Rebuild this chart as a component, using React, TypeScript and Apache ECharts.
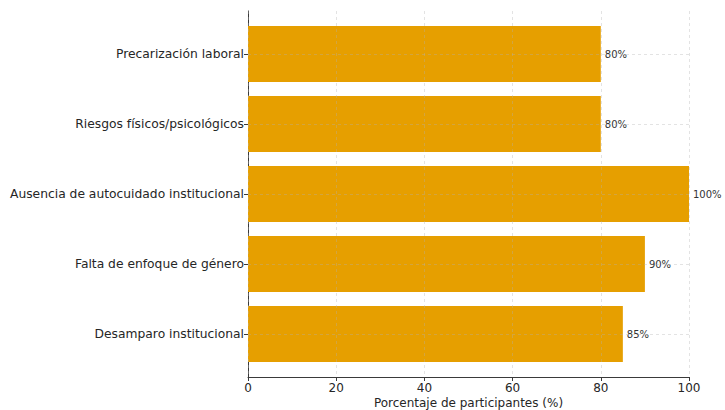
import React, { useEffect, useRef } from "react";
import * as echarts from "echarts";

const categories = [
  "Precarización laboral",
  "Riesgos físicos/psicológicos",
  "Ausencia de autocuidado institucional",
  "Falta de enfoque de género",
  "Desamparo institucional",
];
const percentages = [80, 80, 100, 90, 85];
const xTicks = [0, 20, 40, 60, 80, 100];
const xAxisTitle = "Porcentaje de participantes (%)";

const FONT = "DejaVu Sans";
const TEXT = "#262626";
const GRID_LINE = {
  show: true,
  lineStyle: { color: "rgba(176,176,176,0.45)", type: [3, 3] as number[], width: 0.8 },
};

const PLOT_LEFT = 248;
const PLOT_RIGHT = 36;
const WIDTH = 725;

export default function App() {
  const ref = useRef<HTMLDivElement>(null);

  useEffect(() => {
    const chart = echarts.init(ref.current!, null, { renderer: "svg" });
    chart.setOption({
      animation: false,
      backgroundColor: "#ffffff",
      grid: [
        // bars: category points at the bar centres
        { left: PLOT_LEFT, right: PLOT_RIGHT, top: 54, bottom: 76 },
        // frame: spines, x ticks and vertical grid lines
        { left: PLOT_LEFT, right: PLOT_RIGHT, top: 11, bottom: 33 },
      ],
      xAxis: [
        { gridIndex: 0, type: "value", min: 0, max: 100, show: false },
        {
          gridIndex: 1,
          type: "value",
          min: xTicks[0],
          max: xTicks[xTicks.length - 1],
          interval: 20,
          z: 3,
          axisLine: { show: true, lineStyle: { color: "#3a3a3a", width: 1 } },
          axisTick: { show: true, length: 4, lineStyle: { color: "#3a3a3a" } },
          axisLabel: { fontFamily: FONT, fontSize: 12, color: TEXT, margin: 5 },
          splitLine: GRID_LINE,
        },
      ],
      yAxis: [
        {
          gridIndex: 0,
          type: "category",
          data: categories,
          inverse: true,
          boundaryGap: false,
          z: 3,
          axisLine: { show: false },
          axisTick: { show: true, length: 4, lineStyle: { color: "#3a3a3a" } },
          axisLabel: { fontFamily: FONT, fontSize: 12.3, color: TEXT, margin: 4 },
          splitLine: GRID_LINE,
        },
        {
          gridIndex: 1,
          type: "value",
          min: 0,
          max: 1,
          axisLine: { show: true, lineStyle: { color: "#3a3a3a", width: 1 } },
          axisTick: { show: false },
          axisLabel: { show: false },
          splitLine: { show: false },
        },
      ],
      graphic: [
        {
          type: "text",
          x: PLOT_LEFT + (WIDTH - PLOT_LEFT - PLOT_RIGHT) / 2,
          y: 403,
          style: {
            text: xAxisTitle,
            fontFamily: FONT,
            fontSize: 12,
            fill: TEXT,
            textAlign: "center",
            textVerticalAlign: "middle",
          },
        },
      ],
      series: [
        {
          type: "bar",
          xAxisIndex: 0,
          yAxisIndex: 0,
          data: percentages,
          barCategoryGap: "20%",
          clip: false,
          z: 2,
          itemStyle: { color: "#E69F00" },
          label: {
            show: true,
            position: "right",
            distance: 4,
            formatter: "{c}%",
            fontFamily: FONT,
            fontSize: 10,
            color: "#333333",
          },
        },
      ],
    });
    return () => chart.dispose();
  }, []);

  return (
    <div
      ref={ref}
      style={{ position: "absolute", left: 0, top: 0, width: WIDTH, height: 410 }}
    />
  );
}
